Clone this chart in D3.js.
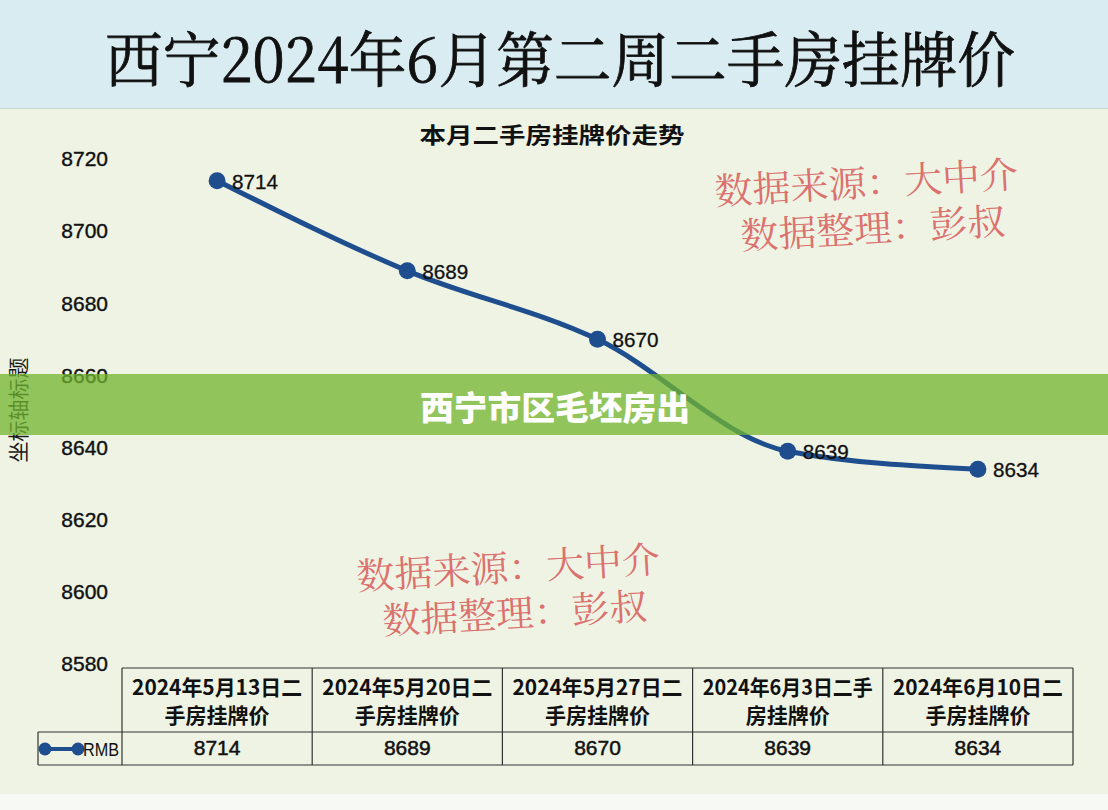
<!DOCTYPE html>
<html>
<head>
<meta charset="utf-8">
<script src="https://cdn.jsdelivr.net/npm/d3@7"></script>
<style>
  html, body { margin: 0; padding: 0; background: #eef3e4; }
  svg { display: block; }
</style>
</head>
<body>
<svg id="chart" width="1108" height="810"></svg>
<script>
// chart data
const weeks = ["2024年5月13日二手房挂牌价", "2024年5月20日二手房挂牌价", "2024年5月27日二手房挂牌价", "2024年6月3日二手房挂牌价", "2024年6月10日二手房挂牌价"];
const headerLines = [
  ["2024年5月13日二", "手房挂牌价"],
  ["2024年5月20日二", "手房挂牌价"],
  ["2024年5月27日二", "手房挂牌价"],
  ["2024年6月3日二手", "房挂牌价"],
  ["2024年6月10日二", "手房挂牌价"]
];
const prices = [8714, 8689, 8670, 8639, 8634];
const yTicks = [8580, 8600, 8620, 8640, 8660, 8680, 8700, 8720];
const seriesName = "RMB";

const svg = d3.select("#chart");
const W = 1108, H = 810;
const font = "'Noto Sans CJK SC', 'Noto Sans', sans-serif";
const numFont = "'Liberation Sans', Arial, sans-serif";
const serif = "'Noto Serif CJK SC', 'DejaVu Serif', " + font;

// backgrounds
svg.append("rect").attr("width", W).attr("height", H).attr("fill", "#eef3e4");
svg.append("rect").attr("width", W).attr("height", 108).attr("fill", "#d9ecf1");
svg.append("line").attr("x1", 0).attr("x2", W).attr("y1", 108.5).attr("y2", 108.5)
  .attr("stroke", "#c9d6cf").attr("stroke-width", 1);
svg.append("rect").attr("y", 794).attr("width", W).attr("height", H - 794).attr("fill", "#f7f9f5");

// big title
svg.append("text")
  .attr("x", 560).attr("y", 82)
  .attr("text-anchor", "middle")
  .attr("textLength", 910).attr("lengthAdjust", "spacingAndGlyphs")
  .style("font-family", serif)
  .style("font-size", "60px")
  .attr("fill", "#111").attr("stroke", "#111").attr("stroke-width", 0.8)
  .text("西宁2024年6月第二周二手房挂牌价");

// chart title
svg.append("text")
  .attr("x", 552).attr("y", 143)
  .attr("text-anchor", "middle")
  .attr("textLength", 265).attr("lengthAdjust", "spacingAndGlyphs")
  .style("font-family", font).style("font-size", "22px").style("font-weight", "bold")
  .attr("fill", "#111")
  .text("本月二手房挂牌价走势");

// scales
const x = d3.scaleBand().domain(weeks).range([122, 1073]);
const y = d3.scaleLinear().domain([8580, 8720]).range([664, 159]);

// y axis (labels only)
const yAxis = svg.append("g")
  .attr("transform", "translate(108,0)")
  .call(d3.axisLeft(y).tickValues(yTicks).tickSize(0).tickPadding(0).tickFormat(d3.format("d")));
yAxis.select(".domain").remove();
yAxis.selectAll("text")
  .style("font-family", numFont)
  .style("font-size", "21px")
  .attr("fill", "#111").attr("stroke", "#111").attr("stroke-width", 0.4);

// y axis title
svg.append("text")
  .attr("transform", "translate(26,410) rotate(-90)")
  .attr("text-anchor", "middle")
  .style("font-family", font).style("font-size", "21px")
  .attr("fill", "#1a1a1a")
  .text("坐标轴标题");

// watermarks
function watermark(cx, cy) {
  const g = svg.append("g").attr("transform", `translate(${cx},${cy}) rotate(-3.3)`);
  g.append("text").attr("x", 0).attr("y", 0).attr("text-anchor", "middle")
    .attr("textLength", 304).attr("lengthAdjust", "spacingAndGlyphs")
    .style("font-family", serif).style("font-size", "37px")
    .attr("fill", "#d9605e").attr("fill-opacity", 0.9)
    .text("数据来源：大中介");
  g.append("text").attr("x", 4).attr("y", 46).attr("text-anchor", "middle")
    .attr("textLength", 265).attr("lengthAdjust", "spacingAndGlyphs")
    .style("font-family", serif).style("font-size", "37px")
    .attr("fill", "#d9605e").attr("fill-opacity", 0.9)
    .text("数据整理：彭叔");
}
watermark(867, 196);
watermark(509, 581);

// line
const pts = weeks.map((w, i) => [x(w) + x.bandwidth() / 2, y(prices[i])]);
const line = d3.line().curve(d3.curveMonotoneX);
svg.append("path")
  .attr("d", line(pts))
  .attr("fill", "none")
  .attr("stroke", "#1f4e8e")
  .attr("stroke-width", 5);

svg.selectAll("circle.pt").data(pts).join("circle")
  .attr("class", "pt")
  .attr("cx", d => d[0]).attr("cy", d => d[1]).attr("r", 8.5)
  .attr("fill", "#1f4e8e");

svg.selectAll("text.lbl").data(prices).join("text")
  .attr("class", "lbl")
  .attr("x", (d, i) => pts[i][0] + 15)
  .attr("y", (d, i) => pts[i][1] + 8)
  .style("font-family", numFont)
  .style("font-size", "21px")
  .attr("fill", "#111").attr("stroke", "#111").attr("stroke-width", 0.3)
  .attr("textLength", 46).attr("lengthAdjust", "spacingAndGlyphs")
  .text(d => d);

// data table
const tTop = 668, tMid = 732, tBot = 765, tLeft = 38;
const tbl = svg.append("g").attr("stroke", "#333").attr("stroke-width", 1.2).attr("fill", "none");
tbl.append("line").attr("x1", x.range()[0]).attr("x2", x.range()[1]).attr("y1", tTop).attr("y2", tTop);
tbl.append("line").attr("x1", tLeft).attr("x2", x.range()[1]).attr("y1", tMid).attr("y2", tMid);
tbl.append("line").attr("x1", tLeft).attr("x2", x.range()[1]).attr("y1", tBot).attr("y2", tBot);
tbl.append("line").attr("x1", tLeft).attr("x2", tLeft).attr("y1", tMid).attr("y2", tBot);
weeks.concat([null]).forEach((w, i) => {
  const xx = w ? x(w) : x.range()[1];
  tbl.append("line").attr("x1", xx).attr("x2", xx).attr("y1", tTop).attr("y2", tBot);
});

weeks.forEach((w, i) => {
  const cx = x(w) + x.bandwidth() / 2;
  headerLines[i].forEach((ln, j) => {
    const t = svg.append("text")
      .attr("x", cx).attr("y", tTop + 27 + j * 28)
      .attr("text-anchor", "middle")
      .style("font-family", font).style("font-size", "21px").style("font-weight", "bold")
      .attr("fill", "#111")
      .text(ln);
    if (j === 0) t.attr("textLength", 170).attr("lengthAdjust", "spacingAndGlyphs");
  });
  svg.append("text")
    .attr("x", cx).attr("y", tMid + 23)
    .attr("text-anchor", "middle")
    .style("font-family", numFont)
    .style("font-size", "21px")
    .attr("fill", "#111").attr("stroke", "#111").attr("stroke-width", 0.5)
    .text(prices[i]);
});

// legend key
svg.append("line").attr("x1", 45).attr("x2", 79).attr("y1", 749).attr("y2", 749)
  .attr("stroke", "#1f4e8e").attr("stroke-width", 4);
[45, 78].forEach(cx => svg.append("circle").attr("cx", cx).attr("cy", 749).attr("r", 6.5).attr("fill", "#1f4e8e"));
svg.append("text")
  .attr("x", 119).attr("y", 756).attr("text-anchor", "end")
  .style("font-family", numFont).style("font-size", "18px")
  .attr("fill", "#111")
  .attr("textLength", 36).attr("lengthAdjust", "spacingAndGlyphs")
  .text(seriesName);

// overlay banner
svg.append("rect")
  .attr("x", 0).attr("y", 374).attr("width", W).attr("height", 61)
  .attr("fill", "#72b52f").attr("fill-opacity", 0.75);
svg.append("text")
  .attr("x", 420).attr("y", 420)
  .attr("textLength", 270).attr("lengthAdjust", "spacingAndGlyphs")
  .style("font-family", font).style("font-size", "33px").style("font-weight", "900")
  .attr("fill", "#ffffff")
  .text("西宁市区毛坯房出");
</script>
</body>
</html>
